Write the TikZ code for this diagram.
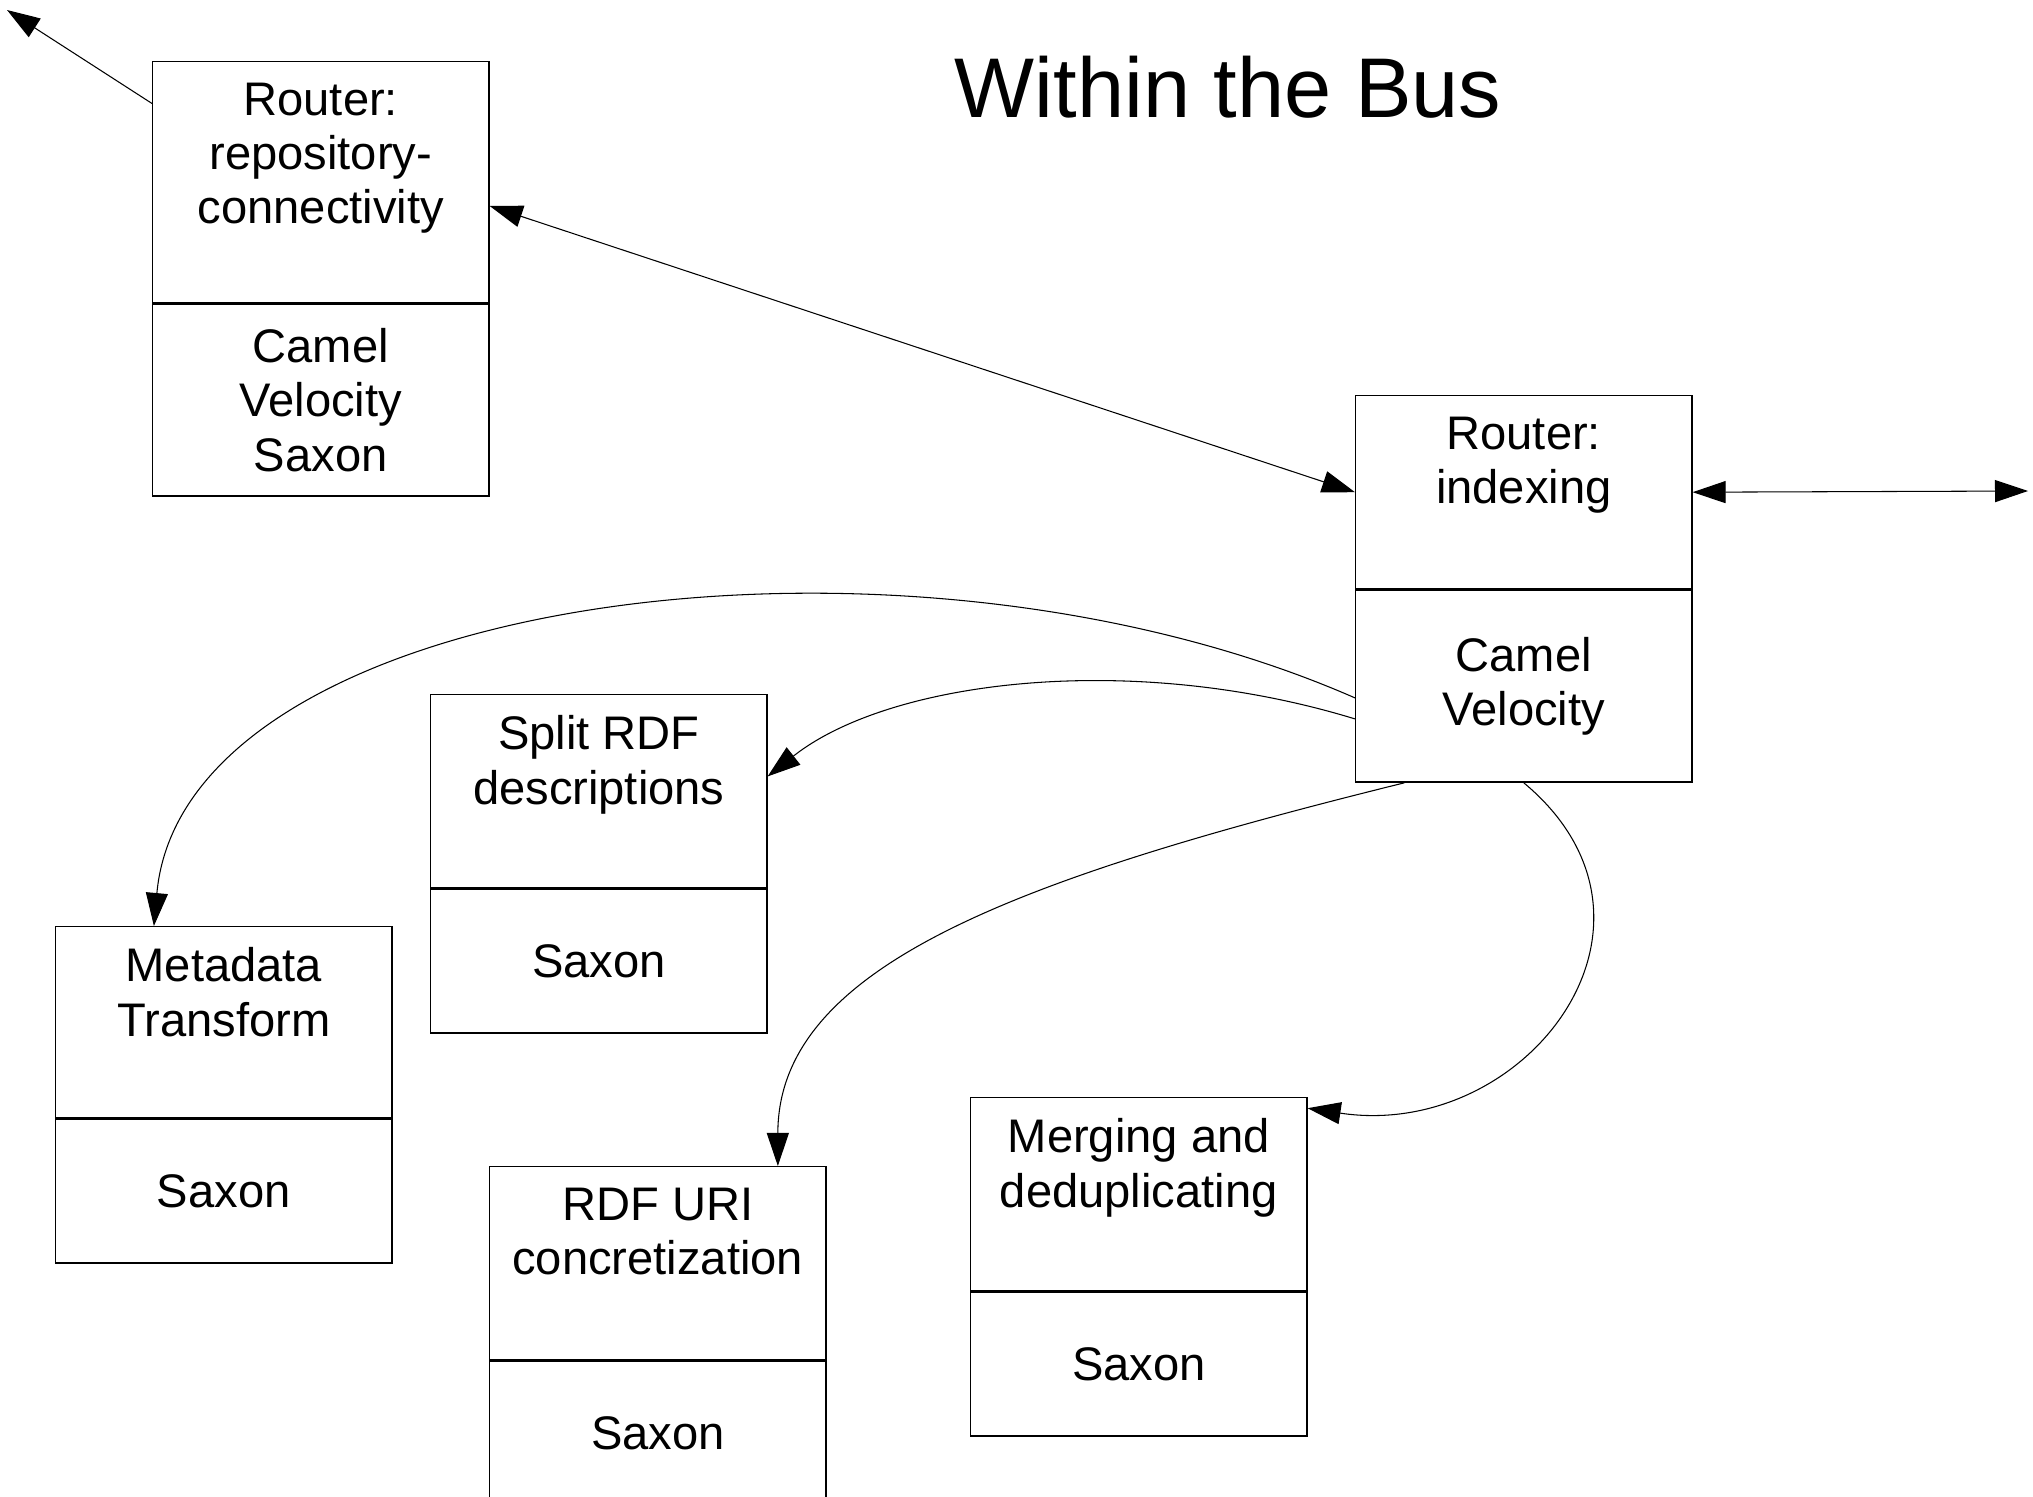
\documentclass[tikz,border=0pt]{standalone}
\usepackage{fontspec}
\setmainfont{Liberation Sans}
\usepackage{tikz}
\usetikzlibrary{arrows.meta,calc,positioning}
\newcommand{\BoxFont}{\fontsize{13.4pt}{15.4pt}\selectfont}
\tikzset{
  part/.style={draw, line width=0.4pt, minimum width=3.36cm, inner sep=0pt, font=\BoxFont, align=center},
  head/.style={inner sep=0pt, font=\BoxFont, align=center},   % label in the upper section
  flow/.style={-{Triangle[length=0.33cm,width=0.22cm]}, line width=0.3pt},
  duplex/.style={{Triangle[length=0.33cm,width=0.22cm]}-{Triangle[length=0.33cm,width=0.22cm]}, line width=0.3pt}
}
\newcommand{\Component}[7]{% #1=name, #2/#3=top left (px), #4/#5=section heights (px), #6=upper text, #7=lower text
  \node[part, anchor=north west, minimum height={#4*0.01cm}] (#1top) at (#2,#3) {};
  \node[part, anchor=north, minimum height={#5*0.01cm}] (#1bot) at (#1top.south) {#7};
  \node[head, anchor=north] (#1lbl) at ([yshift=-0.21cm]#1top.north) {#6};
}

\begin{document}
\begin{tikzpicture}[x=0.01cm, y=-0.01cm]
  \useasboundingbox (0,0) rectangle (2033,1497);
  \clip (0,0) rectangle (2033,1497);
  % Title
  \node[font=\fontsize{24.1pt}{28pt}\selectfont] (title) at (1228,87) {Within the Bus};

  % Components
  \Component{repo}{152}{61}{241}{192}{Router:\\repository-\\connectivity}{Camel\\Velocity\\Saxon}
  \Component{idx}{1355}{395}{193}{192}{Router:\\indexing}{Camel\\Velocity}
  \Component{split}{430}{694}{193}{144}{Split RDF\\descriptions}{Saxon}
  \Component{meta}{55}{926}{191}{144}{Metadata\\Transform}{Saxon}
  \Component{uri}{489}{1166}{193}{144}{RDF URI\\concretization}{Saxon}
  \Component{merge}{970}{1097}{193}{144}{Merging and\\deduplicating}{Saxon}

  % Links leaving the bus
  \coordinate (outL) at (7,10);
  \coordinate (outR) at (2028,491);
  \draw[flow] (repotop.155.5) -- (outL);
  \draw[duplex] (repotop.352.4) -- (idxtop.west);
  \draw[duplex] (idxtop.east) -- (outR);

  % Routes of the indexing router
  \draw[flow] (idxbot.184) .. controls +(-456,-200) and +(30,-330) .. (metatop.126);
  \draw[flow] (idxbot.191) .. controls +(-222,-68) and +(123,-97) .. (splittop.5);
  \draw[flow] (idxbot.219) .. controls +(-388,96) and +(0,-200) .. (uritop.39);
  \draw[flow] (idxbot.270) .. controls +(169,141) and +(218,33) .. (mergetop.27);
\end{tikzpicture}
\end{document}
